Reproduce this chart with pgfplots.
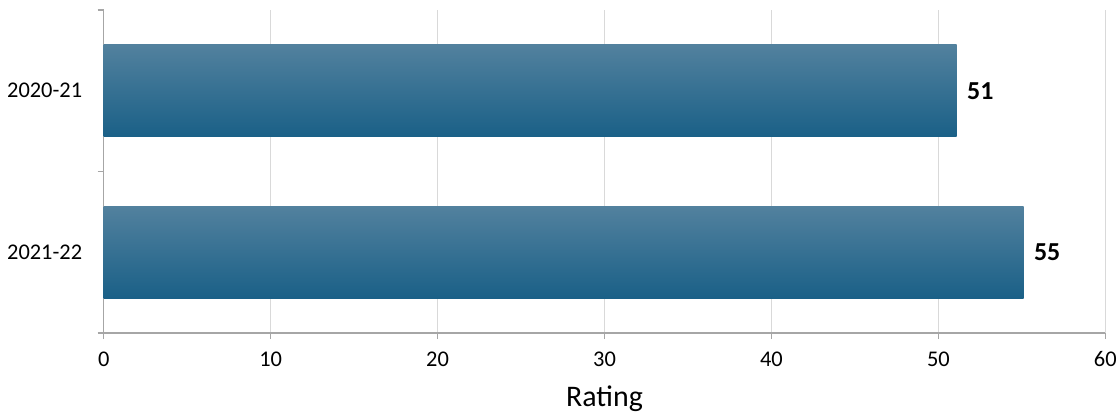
\documentclass[border=0pt]{standalone}
\usepackage{pgfplots}
\pgfplotsset{compat=1.18}
\usepackage{fontspec}
\setmainfont{Carlito}
\definecolor{bartop}{HTML}{52819E}
\definecolor{barmid}{HTML}{1F6E94}
\definecolor{barbot}{HTML}{1A6087}
\definecolor{gridc}{HTML}{D9D9D9}
\definecolor{axc}{HTML}{A6A6A6}
\pgfplotsset{mybar/.style={xbar, bar width=92bp, bar shift=0pt, draw=none,
    top color=bartop, middle color=barmid, bottom color=barbot,
    nodes near coords={\pgfmathprintnumber[fixed,precision=0]{\pgfplotspointmeta}},
    nodes near coords style={anchor=west, xshift=7bp, font=\fontsize{26}{30}\selectfont\bfseries, text=black},
    point meta=x}}
\begin{document}
\begin{tikzpicture}
\useasboundingbox (0,0) rectangle (1120bp,416bp);
\begin{axis}[
  at={(103.7bp,83bp)}, anchor=south west,
  width=1001.6bp, height=323bp, scale only axis,
  xmin=0, xmax=60, ymin=-0.5, ymax=1.5,
  y dir=reverse,
  xtick={0,10,...,60},
  ytick={-0.5,0.5,1.5}, yticklabels={},
  extra y ticks={0,1}, extra y tick labels={2020-21,2021-22},
  extra y tick style={major tick length=0pt, yticklabel style={xshift=-18bp}},
  axis x line*=bottom, axis y line*=left,
  axis line style={axc, line width=1.2bp, -},
  xmajorgrids, major grid style={gridc, line width=1.2bp},
  tick align=outside,
  major tick length=6bp,
  tick style={axc, line width=1.2bp},
  /pgf/number format/assume math mode=true,
  ticklabel style={font=\fontsize{22.5}{26}\selectfont, text=black},
  xticklabel style={yshift=-9bp},
  xlabel={Rating},
  xlabel style={font=\fontsize{30}{34}\selectfont, yshift=-12bp},
  clip=false,
]
\addplot[mybar] coordinates {(51.1,0)};
\addplot[mybar] coordinates {(55.1,1)};
\end{axis}
\end{tikzpicture}
\end{document}
